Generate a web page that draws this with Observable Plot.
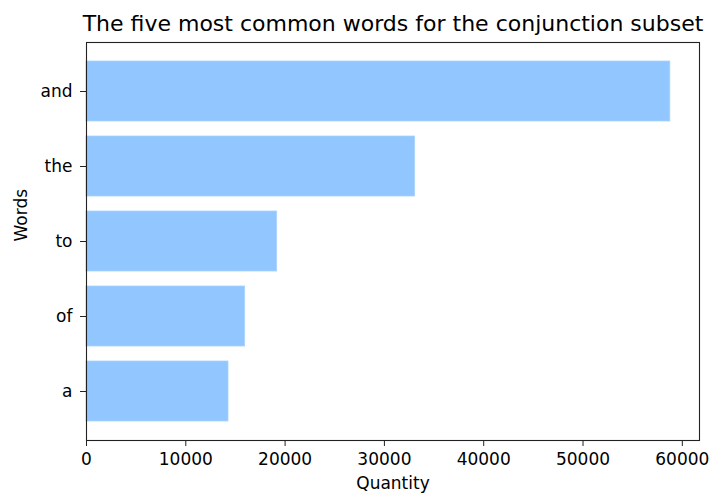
<!DOCTYPE html>
<html>
<head>
<meta charset="utf-8">
<script src="https://cdn.jsdelivr.net/npm/d3@7"></script>
<script src="https://cdn.jsdelivr.net/npm/@observablehq/plot@0.6"></script>
<style>
  html, body { margin: 0; padding: 0; background: #fff; }
  #chart svg { display: block; }
</style>
</head>
<body>
<div id="chart"></div>
<script>
// Five most frequent words in the conjunction subset
const words = ["and", "the", "to", "of", "a"];
const counts = [58790, 33090, 19200, 15980, 14300];
const xTicks = [0, 10000, 20000, 30000, 40000, 50000, 60000];

const titleText = "The five most common words for the conjunction subset";
const xLabel = "Quantity";
const yLabel = "Words";

const data = words.map((w, i) => ({word: w, count: counts[i]}));
const xMax = d3.max(counts) * 1.05;

const chart = Plot.plot({
  width: 712,
  height: 495,
  marginLeft: 86,
  marginRight: 13,
  marginTop: 42,
  marginBottom: 55,
  style: {fontFamily: "DejaVu Sans", fontSize: "17px", color: "#000", background: "#fff"},
  x: {domain: [0, xMax]},
  y: {domain: words, paddingInner: 0.2, paddingOuter: 0.24},
  marks: [
    Plot.barX(data, {x: "count", y: "word", fill: "#91c6ff", stroke: "#a9d2ff", strokeWidth: 0.8}),
    Plot.frame({stroke: "#222", strokeWidth: 1.1}),
    Plot.axisX({ticks: xTicks, tickSize: 6, tickPadding: 6, tickFormat: d3.format("d"), label: null, stroke: "#222"}),
    Plot.axisY({tickSize: 6, tickPadding: 8, label: null, stroke: "#222"}),
    Plot.text([xLabel], {frameAnchor: "bottom", dy: 48, text: d => d, fontSize: 17}),
    Plot.text([yLabel], {frameAnchor: "left", dx: -65, rotate: -90, text: d => d, fontSize: 17}),
    Plot.text([titleText], {frameAnchor: "top", dy: -11.5, lineAnchor: "bottom", text: d => d, fontSize: 22})
  ]
});

document.getElementById("chart").append(chart);
</script>
</body>
</html>
